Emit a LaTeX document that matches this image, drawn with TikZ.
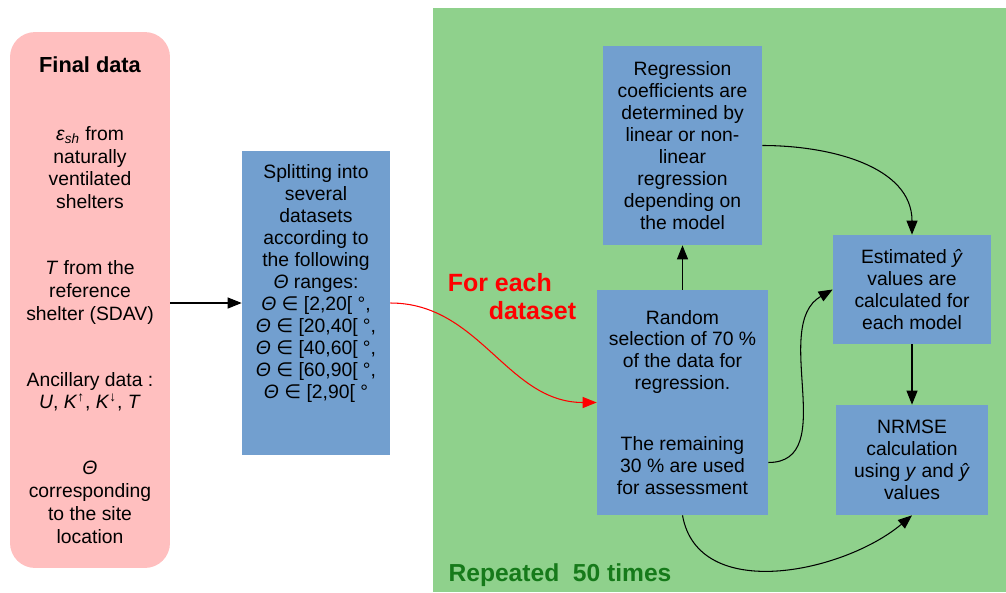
\documentclass[tikz,border=0pt]{standalone}
\usepackage{fontspec}
\setmainfont{Liberation Sans}
\newfontfamily\symfont{DejaVu Sans}
\usetikzlibrary{arrows.meta}
\definecolor{repbg}{HTML}{8FD18C}
\definecolor{stepblue}{HTML}{729FCF}
\definecolor{datapink}{HTML}{FFBFBF}
\definecolor{repgreen}{HTML}{167A1A}

\begin{document}
\begin{tikzpicture}[
        x=0.02cm, y=-0.02cm,
        font=\fontsize{11}{12.5}\selectfont,
        stepbox/.style={fill=stepblue, inner sep=0pt, align=center},
        databox/.style={fill=datapink, rounded corners=0.5cm, inner sep=0pt, align=center},
        flow/.style={line width=0.6pt, ->},
        >={Triangle[length=2.8mm, width=2.2mm]}
    ]
        \useasboundingbox (0,0) rectangle (1006,592);
        \fill[repbg] (433,8) rectangle (1006,592);

        \node[databox, minimum width=3.2cm, minimum height=10.72cm, font=\fontsize{11}{13}\selectfont] (final) at (90,300)
            {{\fontsize{12.4}{14}\selectfont\bfseries Final data}\\[0.9cm]
             \textit{ε}\textsubscript{\textit{sh}} from\\naturally\\ventilated\\shelters\\[0.86cm]
             \textit{T} from the\\reference\\shelter (SDAV)\\[0.86cm]
             Ancillary data :\\\textit{U}, \textit{K}\textsuperscript{↑}, \textit{K}\textsuperscript{↓}, \textit{T}\\[0.86cm]
             \textit{Θ}\\corresponding\\to the site\\location};
        \node[stepbox, minimum width=2.96cm, minimum height=6.08cm, text depth=0.85cm] (split) at (316,303)
            {Splitting into\\several\\datasets\\according to\\the following\\\textit{Θ} ranges:\\
             \textit{Θ} {\symfont ∈} [2,20[ °,\\\textit{Θ} {\symfont ∈} [20,40[ °,\\\textit{Θ} {\symfont ∈} [40,60[ °,\\
             \textit{Θ} {\symfont ∈} [60,90[ °,\\\textit{Θ} {\symfont ∈} [2,90[ °};
        \node[stepbox, minimum width=3.18cm, minimum height=3.98cm] (regr) at (682.5,145.5)
            {Regression\\coefficients are\\determined by\\linear or non-\\linear\\regression\\depending on\\the model};
        \node[stepbox, minimum width=3.42cm, minimum height=4.5cm] (rand) at (682.5,402.5)
            {Random\\selection of 70 \%\\of the data for\\regression.\\[0.78cm]
             The remaining\\30 \% are used\\for assessment};
        \node[stepbox, minimum width=3.16cm, minimum height=2.18cm] (est) at (912,289.5)
            {Estimated \textit{ŷ}\\values are\\calculated for\\each model};
        \node[stepbox, minimum width=3.04cm, minimum height=2.2cm] (nrmse) at (912,460)
            {NRMSE\\calculation\\using \textit{y} and \textit{ŷ}\\values};

        \node[text=red, font=\fontsize{14.2}{16}\selectfont\bfseries, align=left] (each) at (512,297)
            {For each\\\hspace*{0.82cm}dataset};
        \node[text=repgreen, font=\fontsize{14}{16}\selectfont\bfseries] (rep) at (560,575)
            {Repeated\ \ 50 times};

        \draw[flow] (final.east |- split.west) -- (split.west);
        \draw[flow, red] (split.east) to[out=0, in=180] (rand.west);
        \draw[flow] (rand.north) -- (regr.south);
        \draw[flow] (regr.east) to[out=0, in=90] (est.north);
        \draw[flow] ([yshift=-1.2cm]rand.east) to[out=0, in=210] (est.west);
        \draw[flow] (est.south) -- (nrmse.north);
        \draw[flow] (rand.south) to[out=-80, in=-140] (nrmse.south);
    \end{tikzpicture}
\end{document}
